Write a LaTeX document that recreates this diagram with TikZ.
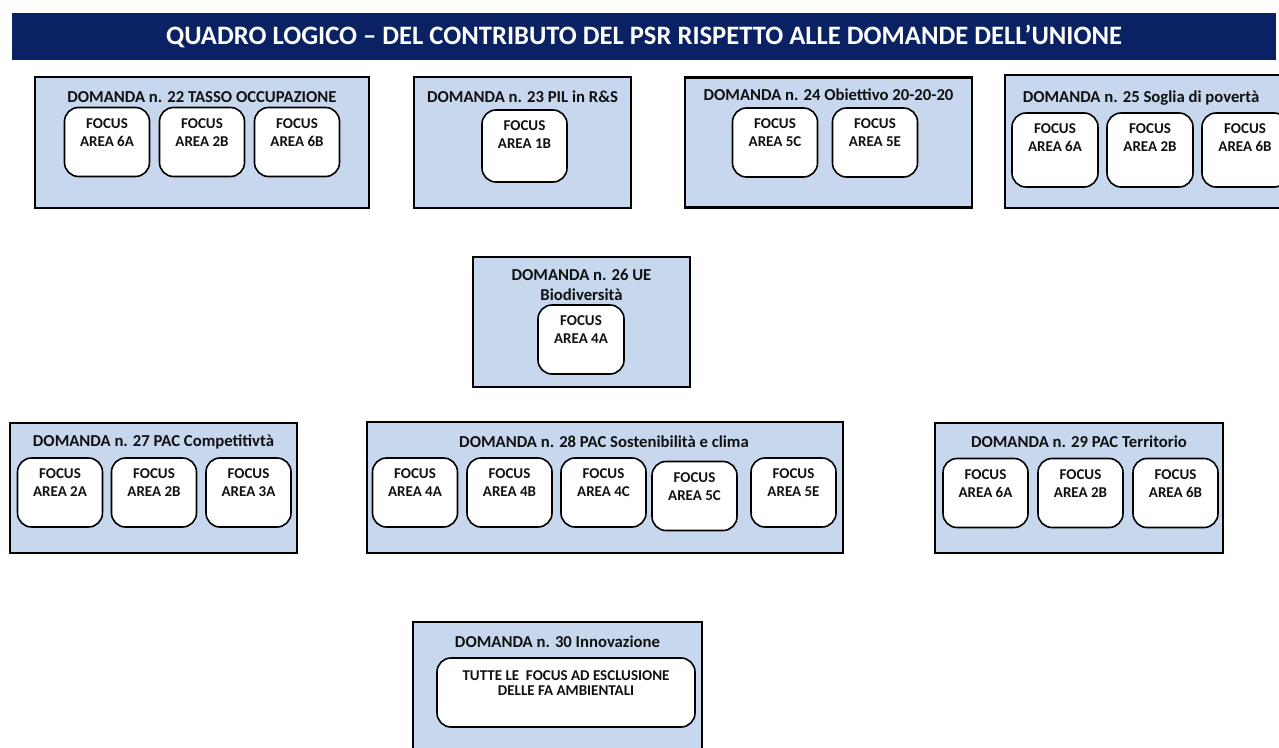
\documentclass[tikz,border=0pt]{standalone}
\usepackage{fontspec}
\setmainfont{Carlito}
\usepackage{tikz}
\usetikzlibrary{positioning}
\definecolor{navy}{HTML}{0A2163}
\definecolor{pale}{HTML}{C6D7EE}
\definecolor{ink}{HTML}{111111}
\tikzset{
  dom/.style={draw=black, fill=pale, line width=2.6pt, inner sep=0pt},
  fa/.style={draw=black, fill=white, line width=1.6pt, rounded corners=14pt, minimum width=85pt, minimum height=69pt, inner sep=0pt},
  hd/.style={text=ink, font=\bfseries\fontsize{16.7}{20}\selectfont, align=center, inner sep=0pt},
  fat/.style={text=ink, font=\bfseries\fontsize{15}{18}\selectfont, align=center, inner sep=0pt, yshift=9.5pt},
  ttl/.style={fill=navy, text=white, font=\bfseries\fontsize{26.6}{30}\selectfont, inner sep=0pt},
}

\begin{document}
\begin{tikzpicture}[x=1pt, y=-1pt]
\useasboundingbox (0,0) rectangle (1279,747);
\clip (0,0) rectangle (1279,747);
\fill[white] (0,0) rectangle (1279,747);

\node[ttl, minimum width=1264pt, minimum height=47pt] (title) at (644,36.5) {QUADRO LOGICO – DEL CONTRIBUTO DEL PSR RISPETTO ALLE DOMANDE DELL’UNIONE};

% domanda 22
\node[dom, minimum width=334pt, minimum height=131pt] (d22) at (202,142.5) {};
\node[hd, anchor=base] (h22) at (202,102.4) {DOMANDA n. 22 TASSO OCCUPAZIONE};
\foreach \x/\t [count=\i] in {107/6A,202/2B,297/6B}{
  \node[fa] (d22f\i) at (\x,142) {};
  \node[fat] (d22t\i) at (d22f\i) {FOCUS\\AREA \t};
}

% domanda 23
\node[dom, minimum width=217pt, minimum height=131pt] (d23) at (522.5,142.5) {};
\node[hd, anchor=base] (h23) at (522.5,102.4) {DOMANDA n. 23 PIL in R\&S};
\node[fa, minimum height=72pt] (d23f1) at (524.5,146) {};
\node[fat, yshift=2pt] (d23t1) at (d23f1) {FOCUS\\AREA 1B};

% domanda 24
\node[dom, minimum width=287pt, minimum height=130pt] (d24) at (828.5,142.5) {};
\node[hd, anchor=base] (h24) at (828.5,100.4) {DOMANDA n. 24 Obiettivo 20-20-20};
\foreach \x/\t [count=\i] in {775/5C,875/5E}{
  \node[fa] (d24f\i) at (\x,142.5) {};
  \node[fat] (d24t\i) at (d24f\i) {FOCUS\\AREA \t};
}

% domanda 25
\node[dom, minimum width=279pt, minimum height=133pt] (d25) at (1144.5,141.5) {};
\node[hd, anchor=base] (h25) at (1141,102.4) {DOMANDA n. 25 Soglia di povertà};
\foreach \x/\t [count=\i] in {1055/6A,1150/2B,1245/6B}{
  \node[fa, minimum width=86pt, minimum height=74pt] (d25f\i) at (\x,150) {};
  \node[fat, yshift=2.5pt] (d25t\i) at (d25f\i) {FOCUS\\AREA \t};
}

% domanda 26
\node[dom, minimum width=217pt, minimum height=130pt] (d26) at (581.5,322) {};
\node[hd] (h26) at (581.5,285) {DOMANDA n. 26 UE\\Biodiversità};
\node[fa, minimum width=86pt] (d26f1) at (581,339.5) {};
\node[fat] (d26t1) at (d26f1) {FOCUS\\AREA 4A};

% domanda 27
\node[dom, minimum width=287pt, minimum height=130pt] (d27) at (153.5,488) {};
\node[hd, anchor=base] (h27) at (153.5,446.4) {DOMANDA n. 27 PAC Competitivtà};
\foreach \x/\t [count=\i] in {60/2A,154/2B,248.5/3A}{
  \node[fa] (d27f\i) at (\x,492.5) {};
  \node[fat] (d27t\i) at (d27f\i) {FOCUS\\AREA \t};
}

% domanda 28
\node[dom, minimum width=476pt, minimum height=131pt] (d28) at (605,487.5) {};
\node[hd, anchor=base] (h28) at (604,447.4) {DOMANDA n. 28 PAC Sostenibilità e clima};
\foreach \x/\y/\t [count=\i] in {415/492.5/4A,509.5/492.5/4B,603.5/492.5/4C,694.5/496/5C,793.5/492.5/5E}{
  \node[fa] (d28f\i) at (\x,\y) {};
  \node[fat] (d28t\i) at (d28f\i) {FOCUS\\AREA \t};
}

% domanda 29
\node[dom, minimum width=288pt, minimum height=130pt] (d29) at (1079,488) {};
\node[hd, anchor=base] (h29) at (1079,447.4) {DOMANDA n. 29 PAC Territorio};
\foreach \x/\t [count=\i] in {985.5/6A,1080.5/2B,1175.5/6B}{
  \node[fa] (d29f\i) at (\x,493) {};
  \node[fat] (d29t\i) at (d29f\i) {FOCUS\\AREA \t};
}

% domanda 30
\node[dom, minimum width=289pt, minimum height=168pt] (d30) at (557.5,706) {};
\node[hd, anchor=base] (h30) at (557.5,647.4) {DOMANDA n. 30 Innovazione};
\node[fa, minimum width=258pt] (d30f1) at (566,692.5) {};
\node[fat, font=\bfseries\fontsize{15}{15}\selectfont] (d30t1) at (d30f1) {TUTTE LE \ FOCUS AD ESCLUSIONE\\DELLE FA AMBIENTALI};
\end{tikzpicture}
\end{document}
